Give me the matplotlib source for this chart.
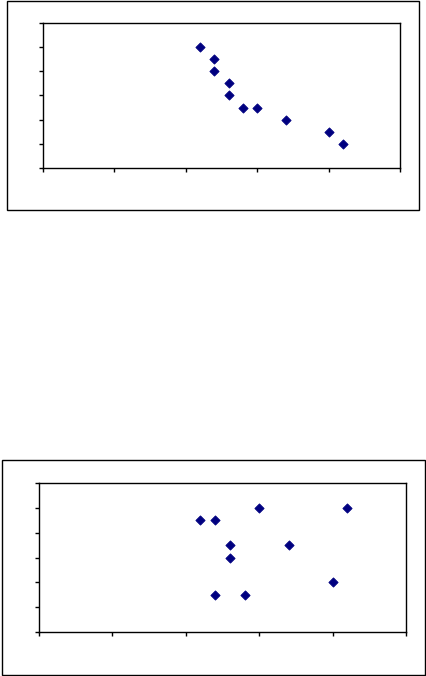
import matplotlib
matplotlib.use("Agg")
import matplotlib.pyplot as plt
from matplotlib.patches import Rectangle

# Data
x_values = [11, 12, 12, 13, 13, 14, 15, 17, 20, 21]
y_top = [5, 4.5, 4, 3.5, 3, 2.5, 2.5, 2, 1.5, 1]
y_bottom = [4.5, 4.5, 1.5, 3.5, 3, 1.5, 5, 3.5, 2, 5]

x_ticks = [0, 5, 10, 15, 20, 25]
y_ticks = [0, 1, 2, 3, 4, 5, 6]

W, H = 427, 676
fig = plt.figure(figsize=(W / 100, H / 100), dpi=100)
fig.patch.set_facecolor("white")


def frac_rect(x0, y0, x1, y1):
    # pixel coords (top-left origin) -> figure fraction [left, bottom, width, height]
    return [x0 / W, 1 - y1 / H, (x1 - x0) / W, (y1 - y0) / H]


def frame(x0, y0, x1, y1):
    l, b, w, h = frac_rect(x0, y0, x1, y1)
    fig.patches.append(Rectangle((l, b), w, h, transform=fig.transFigure,
                                 fill=False, edgecolor="black", linewidth=1.0))


def panel(rect, ys):
    ax = fig.add_axes(frac_rect(*rect))
    ax.scatter(x_values, ys, marker="D", s=22, color="#000080",
               edgecolors="#000080", linewidths=0.6, zorder=3)
    ax.set_xlim(x_ticks[0], x_ticks[-1])
    ax.set_ylim(y_ticks[0], y_ticks[-1])
    ax.set_xticks(x_ticks)
    ax.set_yticks(y_ticks)
    ax.tick_params(direction="out", length=3, width=1, labelbottom=False,
                   labelleft=False, color="black")
    for s in ax.spines.values():
        s.set_color("black")
        s.set_linewidth(1.0)
    return ax


frame(7, 1, 419, 210)
panel((43, 23, 400, 168), y_top)

frame(2, 460, 425, 675)
panel((39, 483, 406, 632), y_bottom)

fig.savefig("out.png", dpi=100, facecolor="white")
